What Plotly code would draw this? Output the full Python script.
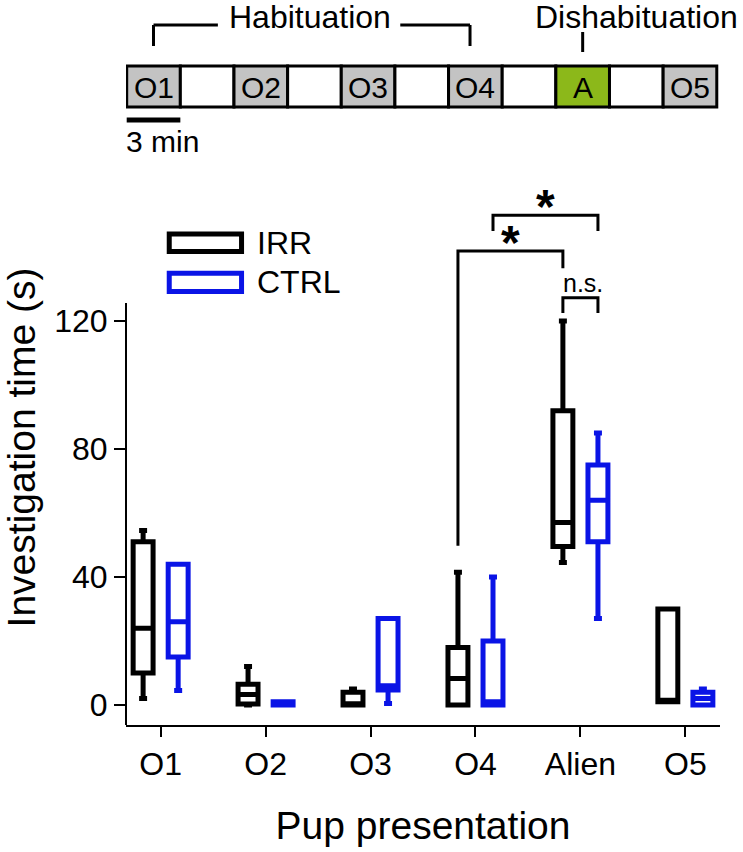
import plotly.graph_objects as go

# main chart data (seconds)
groups = ["O1", "O2", "O3", "O4", "Alien", "O5"]

irr_low = [2, 0, 0, 0, 44.5, 1]
irr_q1 = [10, 0.3, 0, 0, 49.5, 1]
irr_med = [24, 3.3, 0.4, 8.3, 57, 1.5]
irr_q3 = [51, 6.5, 4, 18, 92, 30]
irr_high = [54.5, 12, 5, 41.5, 120, 30]

ctrl_low = [4.5, 0, 0.5, 0, 27, 0]
ctrl_q1 = [15, 0, 4.7, 0, 51, 0]
ctrl_med = [26, 0.5, 6, 1, 64, 2]
ctrl_q3 = [44, 1, 27, 20, 75, 4]
ctrl_high = [44, 1, 27, 40, 85, 5]

# schematic of the protocol
cells = ["O1", "", "O2", "", "O3", "", "O4", "", "A", "", "O5"]
cell_kind = ["odor", "gap", "odor", "gap", "odor", "gap", "odor", "gap", "alien", "gap", "odor"]
kind_color = {"odor": "#c3c3c3", "gap": "white", "alien": "#8cb81a"}

# significance brackets: (group a, series a, group b, series b, label)
brackets = [
    (3, "IRR", 4, "IRR", "*"),
    (3, "CTRL", 4, "CTRL", "*"),
    (4, "IRR", 4, "CTRL", "n.s."),
]

FONT = "Liberation Sans, Arial, sans-serif"
BLUE = "#0a14e6"
off = {"IRR": -0.167, "CTRL": 0.167}
ymin, ymax = -6.25, 167.2
ytop_axis = 125.6

fig = go.Figure()

for name, color, lo, q1, med, q3, hi in [
    ("IRR", "black", irr_low, irr_q1, irr_med, irr_q3, irr_high),
    ("CTRL", BLUE, ctrl_low, ctrl_q1, ctrl_med, ctrl_q3, ctrl_high),
]:
    fig.add_trace(go.Box(
        x=[i + off[name] for i in range(len(groups))],
        q1=q1, median=med, q3=q3, lowerfence=lo, upperfence=hi,
        name=name, width=0.19, whiskerwidth=0.4,
        line=dict(color=color, width=5), fillcolor="white",
        boxpoints=False, showlegend=False, hoverinfo="skip",
    ))

# brackets above the boxes
levels = [141.9, 153.1, 127.3]
drops = [(49.8, 136.5), (148.1, 148.1), (122.5, 122.5)]
for (ga, sa, gb, sb, lab), ylev, (da, db) in zip(brackets, levels, drops):
    xa, xb = ga + off[sa], gb + off[sb]
    fig.add_trace(go.Scatter(
        x=[xa, xa, xb, xb], y=[da, ylev, ylev, db], mode="lines",
        line=dict(color="black", width=3), showlegend=False, hoverinfo="skip",
    ))
    if lab == "*":
        fig.add_annotation(x=(xa + xb) / 2, y=ylev, text="<b>*</b>", showarrow=False,
                           yanchor="bottom", yshift=-20, font=dict(size=48, family=FONT, color="black"))
    else:
        fig.add_annotation(x=(xa + xb) / 2 + 0.02, y=ylev, text=lab, showarrow=False,
                           yanchor="bottom", yshift=-1, font=dict(size=25, family=FONT, color="black"))

# y axis line, only up to the data range
fig.add_shape(type="line", xref="paper", yref="y", x0=0, x1=0, y0=ymin, y1=ytop_axis,
              line=dict(color="black", width=2))

# legend drawn by hand
for name, color, y0, y1 in [("IRR", "black", 141.7, 147.2), ("CTRL", BLUE, 129.2, 134.9)]:
    fig.add_shape(type="rect", xref="x", yref="y", x0=0.082, x1=0.771, y0=y0, y1=y1,
                  line=dict(color=color, width=5), fillcolor="white")
    fig.add_annotation(x=0.9, y=(y0 + y1) / 2, text=name, showarrow=False, xanchor="left",
                       font=dict(size=32, family=FONT, color="black"))

# protocol schematic on its own axes (x in cells, y in pixels from top)
for i, (lab, kind) in enumerate(zip(cells, cell_kind)):
    fig.add_shape(type="rect", xref="x2", yref="y2", x0=i, x1=i + 1, y0=66, y1=107,
                  line=dict(color="black", width=3), fillcolor=kind_color[kind])
    if lab:
        fig.add_annotation(xref="x2", yref="y2", x=i + 0.5, y=87.5, text=lab, showarrow=False,
                           font=dict(size=30, family=FONT, color="black"))

seg = dict(type="line", xref="x2", yref="y2", line=dict(color="black", width=3))
fig.add_shape(x0=0.5, x1=0.5, y0=46, y1=25, **seg)
fig.add_shape(x0=0.5, x1=1.7, y0=25, y1=25, **seg)
fig.add_shape(x0=5.1, x1=6.4, y0=25, y1=25, **seg)
fig.add_shape(x0=6.4, x1=6.4, y0=25, y1=46, **seg)
fig.add_shape(x0=8.5, x1=8.5, y0=32, y1=52, **seg)
fig.add_shape(type="line", xref="x2", yref="y2", x0=0, x1=1, y0=120, y1=120,
              line=dict(color="black", width=5))
fig.add_annotation(xref="x2", yref="y2", x=3.42, y=17, text="Habituation", showarrow=False,
                   font=dict(size=32, family=FONT, color="black"))
fig.add_annotation(xref="x2", yref="y2", x=9.5, y=17, text="Dishabituation", showarrow=False,
                   font=dict(size=32, family=FONT, color="black"))
fig.add_annotation(xref="x2", yref="y2", x=0, y=141, text="3 min", showarrow=False,
                   xanchor="left", xshift=-3, font=dict(size=30, family=FONT, color="black"))

fig.update_layout(
    width=743, height=852,
    margin=dict(l=126, r=23, t=0, b=127),
    paper_bgcolor="white", plot_bgcolor="white",
    font=dict(family=FONT, color="black"),
    boxmode="overlay", hovermode=False,
    xaxis=dict(
        range=[-0.33, 5.33], tickmode="array", tickvals=list(range(len(groups))), ticktext=groups,
        showline=True, linecolor="black", linewidth=2, ticks="outside", ticklen=10, tickwidth=2,
        tickcolor="black", showgrid=False, zeroline=False, tickfont=dict(size=32),
        title=dict(text="Pup presentation", font=dict(size=39), standoff=30),
    ),
    yaxis=dict(
        domain=[0, 0.7655], range=[ymin, ymax], tickvals=[0, 40, 80, 120],
        showline=False, ticks="outside", ticklen=11, tickwidth=2, tickcolor="black",
        showgrid=False, zeroline=False, tickfont=dict(size=32),
        title=dict(text="Investigation time (s)", font=dict(size=39), standoff=8),
    ),
    xaxis2=dict(domain=[0, 1], range=[-0.013, 11.06], anchor="y2", visible=False),
    yaxis2=dict(domain=[0.7793, 1], range=[160, 0], anchor="x2", visible=False),
)

fig.write_html("out.html", config={"displayModeBar": False},
               post_script="document.body.style.margin='0';")
